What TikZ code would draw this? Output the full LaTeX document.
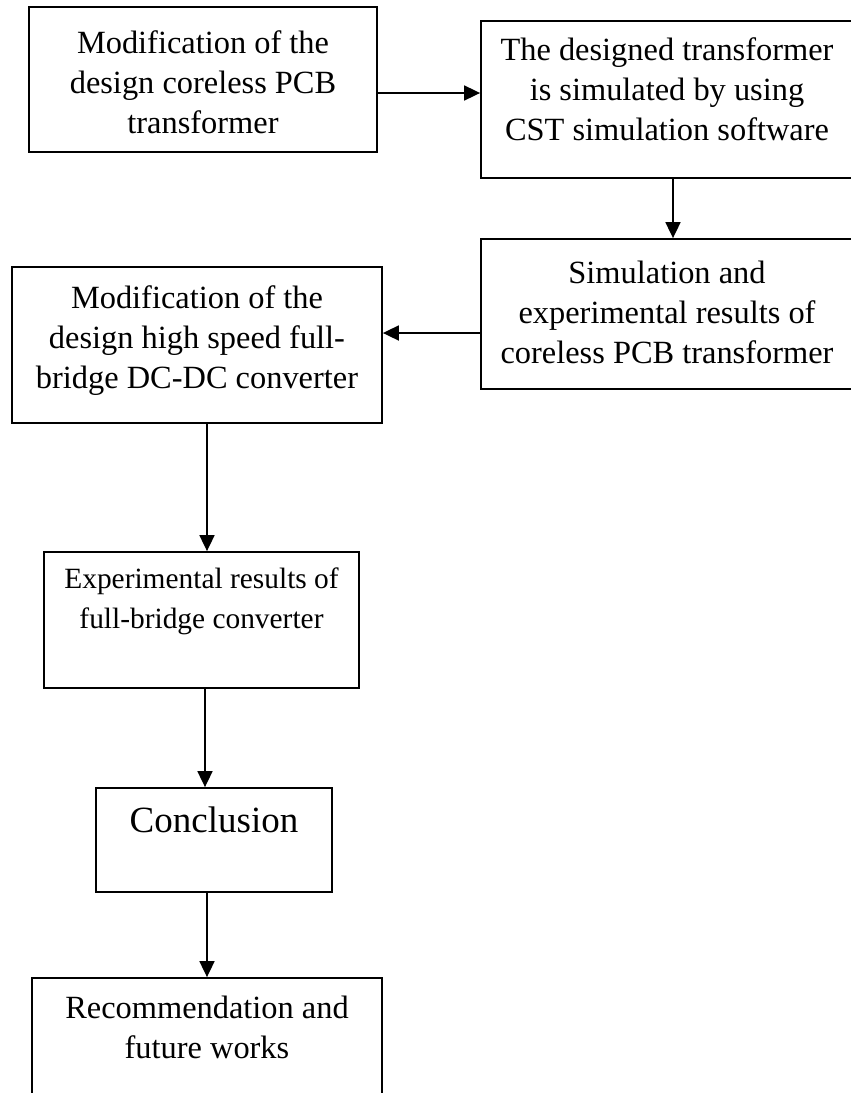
\documentclass[tikz,border=0pt]{standalone}
\usepackage{fontspec}
\setmainfont{Liberation Serif}
\usetikzlibrary{positioning,arrows.meta}
\begin{document}
\begin{tikzpicture}[x=0.5pt,y=-0.5pt,
  box/.style={draw,line width=0.9pt,inner sep=0pt},
  txt/.style={align=center,inner sep=0pt,font=\fontsize{16.2}{20}\selectfont},
  arr/.style={line width=0.9pt,-{Triangle[length=8pt,width=7.5pt]}}]
\useasboundingbox (0,0) rectangle (851,1093);

\node[box,minimum width=174pt,minimum height=72.5pt] (b1) at (203,79.5) {};
\node[box,minimum width=186pt,minimum height=78.5pt] (b2) at (667,99.5) {};
\node[box,minimum width=186pt,minimum height=75pt] (b3) at (667,314) {};
\node[box,minimum width=185pt,minimum height=78pt] (b4) at (197,345) {};
\node[box,minimum width=157.5pt,minimum height=68pt] (b5) at (201.5,620) {};
\node[box,minimum width=118pt,minimum height=52pt] (b6) at (214,840) {};
\node[box,minimum width=175pt,minimum height=66pt] (b7) at (207,1044) {};

\node[txt,below=12pt of b1.north] (t1) {Modification of the\\design coreless PCB\\transformer};
\node[txt,below=8.5pt of b2.north] (t2) {The designed transformer\\is simulated by using\\CST simulation software};
\node[txt,below=11.5pt of b3.north] (t3) {Simulation and\\experimental results of\\coreless PCB transformer};
\node[txt,below=9.5pt of b4.north] (t4) {Modification of the\\design high speed full-\\bridge DC-DC converter};
\node[txt,font=\fontsize{14.7}{20}\selectfont,below=8pt of b5.north] (t5) {Experimental results of\\full-bridge converter};
\node[txt,font=\fontsize{18.5}{22}\selectfont,below=9.5pt of b6.north] (t6) {Conclusion};
\node[txt,below=9.5pt of b7.north] (t7) {Recommendation and\\future works};

\draw[arr] ([yshift=-6.75pt]b1.east) -- ([yshift=3.25pt]b2.west);
\draw[arr] ([xshift=3pt]b2.south) -- ([xshift=3pt]b3.north);
\draw[arr] ([yshift=-9.5pt]b3.west) -- ([yshift=6pt]b4.east);
\draw[arr] ([xshift=5pt]b4.south) -- ([xshift=2.75pt]b5.north);
\draw[arr] ([xshift=1.75pt]b5.south) -- ([xshift=-4.5pt]b6.north);
\draw[arr] ([xshift=-3.5pt]b6.south) -- (b7.north);
\end{tikzpicture}
\end{document}
